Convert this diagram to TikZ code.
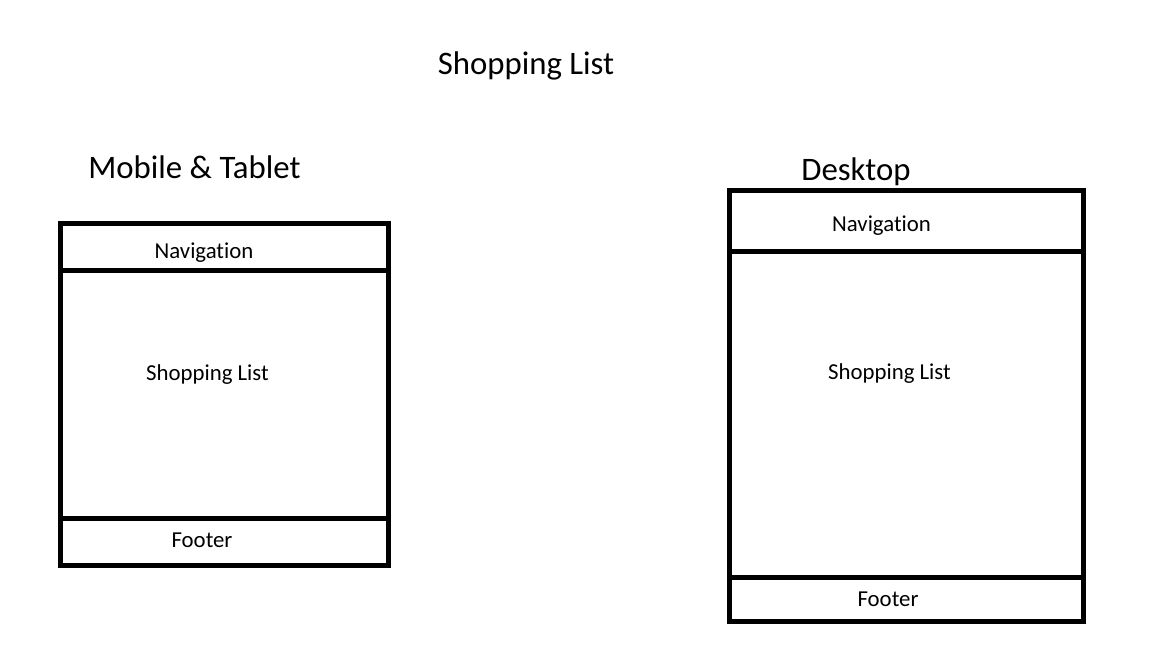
\documentclass[tikz,border=0pt]{standalone}
\usepackage{fontspec}
\setmainfont{Carlito}[Ligatures=NoCommon]
\usetikzlibrary{positioning}

\begin{document}
\begin{tikzpicture}[x=1pt,y=-1pt,line width=5pt,node distance=0pt]
\tikzstyle{panel} = [draw,rectangle,inner sep=0pt,outer sep=0pt]
\tikzstyle{heading} = [font=\fontsize{32.8}{38}\selectfont,anchor=base]
\tikzstyle{boxtext} = [font=\fontsize{22.8}{27}\selectfont,anchor=base]

\useasboundingbox (0,0) rectangle (1152,648);

\node[heading] (TITLE) at (526,74) {Shopping List};
\node[heading] (MOBILE) at (194.5,178) {Mobile \& Tablet};
\node[heading] (DESKTOP) at (856,180) {Desktop};

% mobile & tablet layout
\node[panel,anchor=north west,minimum width=328pt,minimum height=47pt] (MNAV) at (60,223.5) {};
\node[panel,minimum width=328pt,minimum height=247.5pt] (MLIST) [below = of MNAV] {};
\node[panel,minimum width=328pt,minimum height=47pt] (MFOOT) [below = of MLIST] {};

\node[boxtext] (MNAVT) at (204,258) {Navigation};
\node[boxtext] (MLISTT) at (207.5,380.5) {Shopping List};
\node[boxtext] (MFOOTT) at (202,547.5) {Footer};

% desktop layout
\node[panel,anchor=north west,minimum width=354pt,minimum height=61.5pt] (DNAV) at (729,190) {};
\node[panel,minimum width=354pt,minimum height=326pt] (DLIST) [below = of DNAV] {};
\node[panel,minimum width=354pt,minimum height=43.5pt] (DFOOT) [below = of DLIST] {};

\node[boxtext] (DNAVT) at (881.5,231.5) {Navigation};
\node[boxtext] (DLISTT) at (889.5,379) {Shopping List};
\node[boxtext] (DFOOTT) at (888,606.5) {Footer};

\end{tikzpicture}
\end{document}
